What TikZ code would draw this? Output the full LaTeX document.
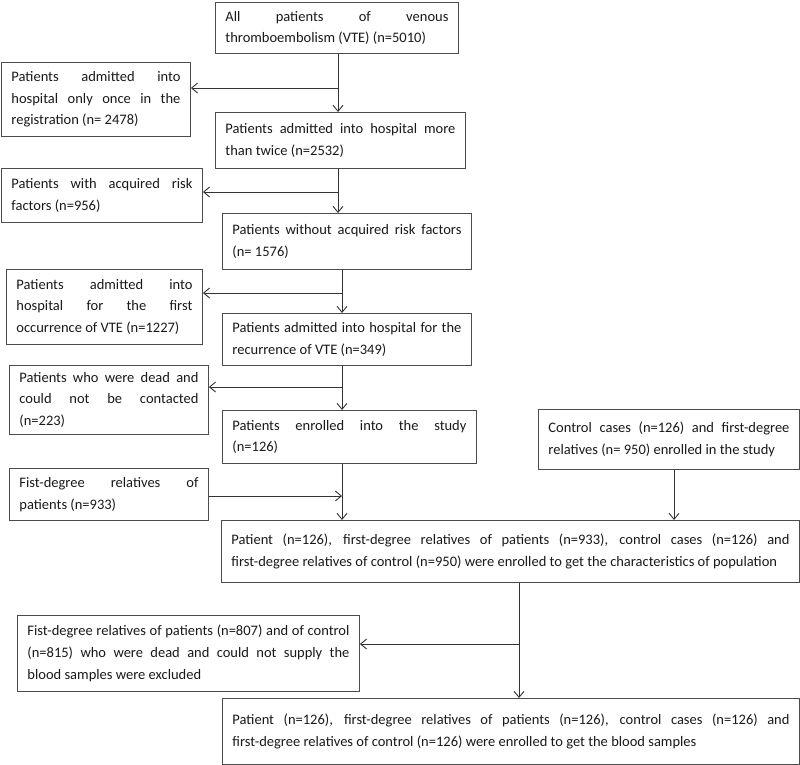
\documentclass[tikz,border=0pt]{standalone}
\usepackage{fontspec}
\setmainfont{Carlito}
\usetikzlibrary{arrows.meta,positioning,calc}
\hyphenpenalty=10000
\exhyphenpenalty=10000
\tolerance=10000
\hbadness=10000

\begin{document}
\begin{tikzpicture}[
    x=1pt, y=-1pt,
    box/.style={rectangle, draw=black!70, line width=0.9pt, anchor=north west, align=justify, inner xsep=10pt, inner ysep=2pt, text=black!90, font=\fontsize{14.5}{21.7}\selectfont},
    arrow/.style={->, >={Straight Barb[length=6pt,width=10pt]}, draw=black!80, line width=0.9pt}
]
\useasboundingbox (0,0) rectangle (800,765);

% Main column
\node[box, text width=223pt, minimum height=51pt] (all) at (215,2) {All patients of venous\linebreak thromboembolism (VTE) (n=5010)};
\node[box, text width=230pt, minimum height=56pt] (twice) at (215,112) {Patients admitted into hospital more\linebreak than twice (n=2532)};
\node[box, text width=229pt, minimum height=56pt] (norisk) at (222,213) {Patients without acquired risk factors\linebreak (n= 1576)};
\node[box, text width=229pt, minimum height=52pt] (recur) at (222,313) {Patients admitted into hospital for the\linebreak recurrence of VTE (n=349)};
\node[box, text width=234pt, minimum height=53pt] (enrolled) at (222,410) {Patients enrolled into the study\linebreak (n=126)};

% Excluded on the left
\node[box, text width=169pt, minimum height=74pt] (once) at (1,62) {Patients admitted into\linebreak hospital only once in the\linebreak registration (n= 2478)};
\node[box, text width=181pt, minimum height=54pt] (risk) at (1,168) {Patients with acquired risk\linebreak factors (n=956)};
\node[box, text width=176pt, minimum height=75pt] (first) at (6,269) {Patients admitted into\linebreak hospital for the first\linebreak occurrence of VTE (n=1227)};
\node[box, text width=179pt, minimum height=69pt] (dead) at (9,365) {Patients who were dead and\linebreak could not be contacted\linebreak (n=223)};

% Relatives and controls
\node[box, text width=179pt, minimum height=52pt] (fist) at (9,468) {Fist-degree relatives of\linebreak patients (n=933)};
\node[box, text width=241pt, minimum height=60pt] (control) at (538,409) {Control cases (n=126) and first-degree\linebreak relatives (n= 950) enrolled in the study};
\node[box, text width=558pt, minimum height=62pt] (popul) at (221,520) {Patient (n=126), first-degree relatives of patients (n=933), control cases (n=126) and\linebreak first-degree relatives of control (n=950) were enrolled to get the characteristics of population};

% Blood samples
\node[box, text width=322pt, minimum height=76pt] (dropped) at (17,615) {Fist-degree relatives of patients (n=807) and of control\linebreak (n=815) who were dead and could not supply the\linebreak blood samples were excluded};
\node[box, text width=557pt, minimum height=66pt] (blood) at (222,698) {Patient (n=126), first-degree relatives of patients (n=126), control cases (n=126) and\linebreak first-degree relatives of control (n=126) were enrolled to get the blood samples};

% branch points
\coordinate (s1) at (338,88);
\coordinate (s2) at (338,192);
\coordinate (s3) at (342,293);
\coordinate (s4) at (342,387);
\coordinate (s5) at (342,496);
\coordinate (s6) at (519,644);
\coordinate (s7) at (674,0);

\draw[arrow] (all.south -| s1) -- (twice.north -| s1);
\draw[arrow] (s1) -- (s1 -| once.east);
\draw[arrow] (twice.south -| s2) -- (norisk.north -| s2);
\draw[arrow] (s2) -- (s2 -| risk.east);
\draw[arrow] (norisk.south -| s3) -- (recur.north -| s3);
\draw[arrow] (s3) -- (s3 -| first.east);
\draw[arrow] (recur.south -| s4) -- (enrolled.north -| s4);
\draw[arrow] (s4) -- (s4 -| dead.east);
\draw[arrow] (enrolled.south -| s5) -- (popul.north -| s5);
\draw[arrow] (s5 -| fist.east) -- (s5);
\draw[arrow] (control.south -| s7) -- (popul.north -| s7);
\draw[arrow] (popul.south -| s6) -- (blood.north -| s6);
\draw[arrow] (s6) -- (s6 -| dropped.east);

\end{tikzpicture}
\end{document}
